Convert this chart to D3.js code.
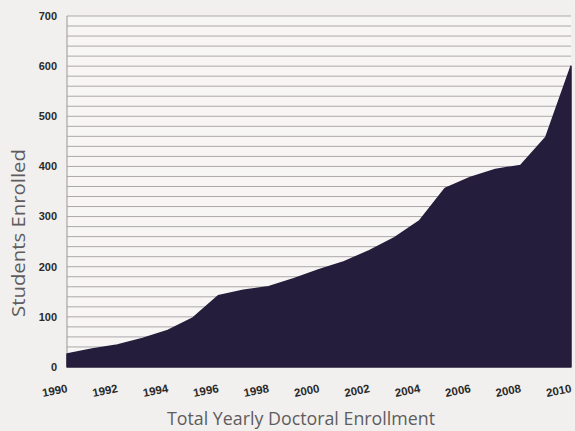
<!DOCTYPE html>
<html lang="en">
<head>
<meta charset="utf-8">
<title>Total Yearly Doctoral Enrollment</title>
<script src="https://d3js.org/d3.v7.min.js"></script>
<style>
  body { margin: 0; background: #f1f0ee; }
  svg { display: block; }
</style>
</head>
<body>
<svg width="575" height="431"></svg>
<script>
// enrollment per year
var years = [1990, 1991, 1992, 1993, 1994, 1995, 1996, 1997, 1998, 1999, 2000,
             2001, 2002, 2003, 2004, 2005, 2006, 2007, 2008, 2009, 2010];
var enrolled = [26, 36, 44, 57, 73, 98, 142, 153, 160, 176, 194,
                210, 232, 258, 292, 356, 378, 394, 402, 458, 600];
var xTicks = [1990, 1992, 1994, 1996, 1998, 2000, 2002, 2004, 2006, 2008, 2010];
var yTicks = [0, 100, 200, 300, 400, 500, 600, 700];

var svg = d3.select("svg"),
    margin = {top: 16, right: 4, bottom: 64, left: 67},
    width = 575 - margin.left - margin.right,
    height = 431 - margin.top - margin.bottom;

var x = d3.scaleLinear().domain([1990, 2010]).range([0, width]);
var y = d3.scaleLinear().domain([0, 700]).range([height, 0]);

var g = svg.append("g")
    .attr("transform", "translate(" + margin.left + "," + margin.top + ")");

// plot background
g.append("rect")
    .attr("width", width).attr("height", height)
    .attr("fill", "#f7f6f5");

// horizontal rules every 20 students
g.selectAll(".grid")
  .data(d3.range(20, 701, 20))
  .enter().append("line")
    .attr("class", "grid")
    .attr("x1", 0).attr("x2", width)
    .attr("y1", function(d) { return y(d); })
    .attr("y2", function(d) { return y(d); })
    .attr("stroke", "#ada7a9")
    .attr("stroke-width", 1);

// left rule
g.append("line")
    .attr("x1", 0).attr("x2", 0)
    .attr("y1", 0).attr("y2", height)
    .attr("stroke", "#9a9799");

var data = years.map(function(d, i) { return {year: d, value: enrolled[i]}; });

var area = d3.area()
    .x(function(d) { return x(d.year); })
    .y0(height)
    .y1(function(d) { return y(d.value); })
    .curve(d3.curveLinear);

g.append("path")
    .datum(data)
    .attr("d", area)
    .attr("fill", "#241d3b")
    .attr("stroke", "#241d3b")
    .attr("stroke-linejoin", "round")
    .attr("stroke-width", 1.5);

// y tick labels
g.selectAll(".ylab")
  .data(yTicks)
  .enter().append("text")
    .attr("class", "ylab")
    .attr("x", -10)
    .attr("y", function(d) { return y(d); })
    .attr("dy", "0.35em")
    .attr("text-anchor", "end")
    .attr("font-family", "Liberation Sans, Arial, sans-serif")
    .attr("font-weight", "bold")
    .attr("font-size", 11)
    .attr("fill", "#2a2a2a")
    .text(function(d) { return d; });

// x tick labels, slightly tilted
g.selectAll(".xlab")
  .data(xTicks)
  .enter().append("text")
    .attr("class", "xlab")
    .attr("transform", function(d) { return "translate(" + (x(d) + 1) + "," + (height + 25) + ") rotate(-11)"; })
    .attr("text-anchor", "end")
    .attr("font-family", "Liberation Sans, Arial, sans-serif")
    .attr("font-weight", "bold")
    .attr("font-size", 11.5)
    .attr("fill", "#2a2a2a")
    .text(function(d) { return d; });

// axis titles
svg.append("text")
    .attr("transform", "translate(25,233) rotate(-90)")
    .attr("text-anchor", "middle")
    .attr("font-family", "Open Sans, sans-serif")
    .attr("font-size", 18)
    .attr("textLength", 168)
    .attr("lengthAdjust", "spacingAndGlyphs")
    .attr("fill", "#5e5c5e")
    .text("Students Enrolled");

svg.append("text")
    .attr("x", 301)
    .attr("y", 425)
    .attr("text-anchor", "middle")
    .attr("font-family", "Open Sans, sans-serif")
    .attr("font-size", 19)
    .attr("textLength", 268)
    .attr("lengthAdjust", "spacingAndGlyphs")
    .attr("fill", "#5e5c5e")
    .text("Total Yearly Doctoral Enrollment");
</script>
</body>
</html>
